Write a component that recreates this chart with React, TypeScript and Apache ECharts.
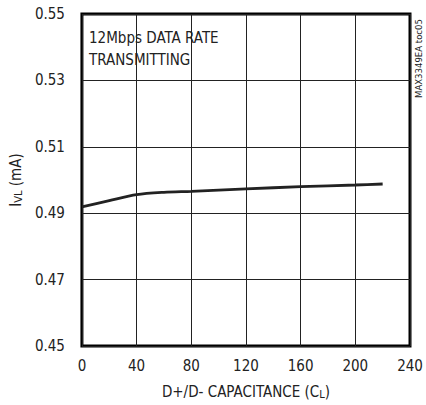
import React, { useEffect, useRef } from "react";
import * as echarts from "echarts";

const capacitance = [0, 20, 40, 60, 80, 120, 160, 200, 220];
const currentMA = [0.4919, 0.4938, 0.4956, 0.4963, 0.4966, 0.4973, 0.498, 0.4985, 0.4988];
const xTicks = [0, 40, 80, 120, 160, 200, 240];
const yTicks = ["0.45", "0.47", "0.49", "0.51", "0.53", "0.55"];

const FONT = "'Liberation Sans Narrow', 'DejaVu Sans Condensed', 'Liberation Sans', sans-serif";

export default function App() {
  const ref = useRef<HTMLDivElement>(null);
  useEffect(() => {
    document.body.style.margin = "0";
    const chart = echarts.init(ref.current!, undefined, { renderer: "svg" });
    chart.setOption({
      animation: false,
      backgroundColor: "#fff",
      grid: { left: 81, right: 16, top: 14, bottom: 59, show: true, borderColor: "#000", borderWidth: 3 },
      xAxis: {
        type: "value",
        min: xTicks[0],
        max: xTicks[xTicks.length - 1],
        interval: 40,
        axisLine: { show: false },
        axisTick: { show: false },
        splitLine: { show: true, lineStyle: { color: "#222", width: 1 } },
        axisLabel: { color: "#222", fontFamily: FONT, fontSize: 15, margin: 12 },
        name: "{a|D+/D- CAPACITANCE (C}{s|L}{a|)}",
        nameLocation: "middle",
        nameGap: 37,
        nameTextStyle: {
          rich: {
            a: { fontFamily: FONT, fontSize: 15, color: "#222" },
            s: { fontFamily: FONT, fontSize: 11, color: "#222", verticalAlign: "bottom", padding: [6, 0, 0, 0] },
          },
        },
      },
      yAxis: {
        type: "value",
        min: 0.45,
        max: 0.55,
        interval: 0.02,
        axisLine: { show: false },
        axisTick: { show: false },
        splitLine: { show: true, lineStyle: { color: "#222", width: 1 } },
        axisLabel: {
          color: "#222",
          fontFamily: FONT,
          fontSize: 15,
          margin: 17,
          formatter: (v: number) => {
            const s = v.toFixed(2);
            return yTicks.includes(s) ? s : "";
          },
        },
        name: "{a|I}{s|VL}{a| (mA)}",
        nameLocation: "middle",
        nameGap: 54,
        nameTextStyle: {
          rich: {
            a: { fontFamily: FONT, fontSize: 15, color: "#222" },
            s: { fontFamily: FONT, fontSize: 11, color: "#222", verticalAlign: "bottom", padding: [6, 0, 0, 0] },
          },
        },
      },
      graphic: [
        {
          type: "text",
          left: 89,
          top: 27,
          style: {
            text: "12Mbps DATA RATE\nTRANSMITTING",
            font: `15px ${FONT}`,
            fill: "#222",
            lineHeight: 22,
          },
        },
        {
          type: "text",
          x: 413,
          y: 98,
          rotation: Math.PI / 2,
          style: {
            text: "MAX3349EA toc05",
            font: `9.5px ${FONT}`,
            fill: "#222",
          },
        },
      ],
      series: [
        {
          type: "line",
          data: capacitance.map((c, i) => [c, currentMA[i]]),
          showSymbol: false,
          smooth: 0.3,
          lineStyle: { color: "#222", width: 2.8 },
        },
      ],
    });
    return () => chart.dispose();
  }, []);
  return <div ref={ref} style={{ width: 426, height: 405 }} />;
}
